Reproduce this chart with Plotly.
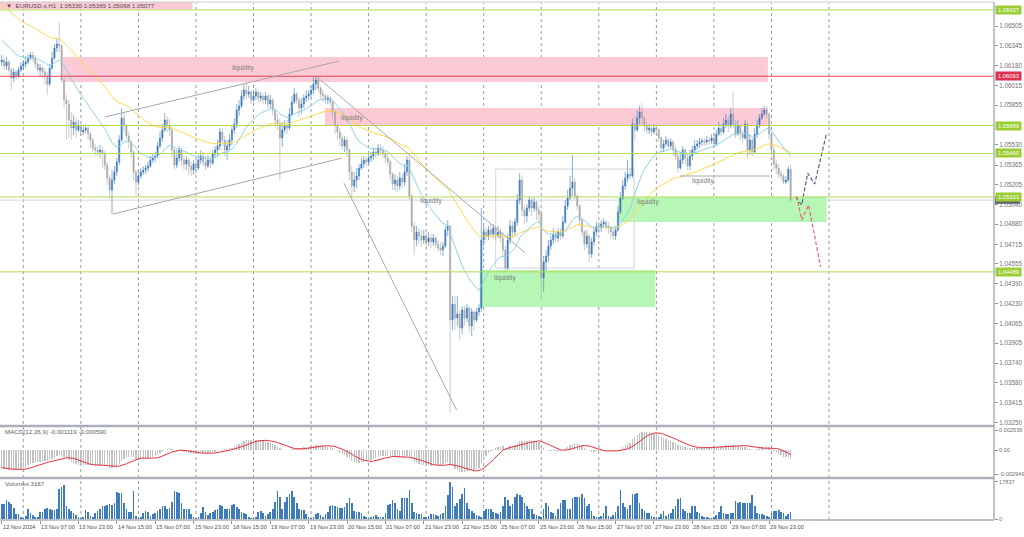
import plotly.graph_objects as go
from plotly.subplots import make_subplots

# ---------------- data (EURUSD.s H1) ----------------
first_open = 1.06210
close = [
    1.06226, 1.06177, 1.06210, 1.06144, 1.06078, 1.06128, 1.06095, 1.06144, 1.06177, 1.06193,
    1.06210, 1.06242, 1.06267, 1.06242, 1.06193, 1.06144, 1.06160, 1.06128, 1.06095, 1.06029,
    1.06160, 1.06242, 1.06324, 1.06357, 1.06341, 1.06062, 1.05898, 1.05865, 1.05734, 1.05668,
    1.05718, 1.05652, 1.05685, 1.05636, 1.05652, 1.05668, 1.05619, 1.05570, 1.05504, 1.05488,
    1.05472, 1.05488, 1.05463, 1.05365, 1.05258, 1.05160, 1.05242, 1.05308, 1.05390, 1.05570,
    1.05750, 1.05685, 1.05603, 1.05554, 1.05472, 1.05308, 1.05226, 1.05275, 1.05308, 1.05324,
    1.05340, 1.05357, 1.05406, 1.05422, 1.05439, 1.05521, 1.05586, 1.05652, 1.05734, 1.05685,
    1.05652, 1.05488, 1.05365, 1.05422, 1.05488, 1.05406, 1.05373, 1.05406, 1.05357, 1.05324,
    1.05373, 1.05340, 1.05406, 1.05439, 1.05390, 1.05357, 1.05406, 1.05381, 1.05455, 1.05488,
    1.05521, 1.05636, 1.05570, 1.05488, 1.05521, 1.05570, 1.05652, 1.05701, 1.05816, 1.05849,
    1.05931, 1.05980, 1.05947, 1.05964, 1.05898, 1.05931, 1.05964, 1.05914, 1.05931, 1.05898,
    1.05931, 1.05865, 1.05898, 1.05816, 1.05734, 1.05701, 1.05586, 1.05652, 1.05685, 1.05668,
    1.05783, 1.05882, 1.05947, 1.05898, 1.05832, 1.05865, 1.05914, 1.05931, 1.05947, 1.05980,
    1.06029, 1.06062, 1.05996, 1.05947, 1.05931, 1.05898, 1.05914, 1.05882, 1.05800, 1.05685,
    1.05636, 1.05586, 1.05521, 1.05570, 1.05488, 1.05308, 1.05193, 1.05242, 1.05275, 1.05340,
    1.05373, 1.05406, 1.05390, 1.05422, 1.05439, 1.05472, 1.05455, 1.05504, 1.05488, 1.05455,
    1.05422, 1.05390, 1.05291, 1.05209, 1.05242, 1.05193, 1.05258, 1.05226, 1.05308, 1.05406,
    1.05111, 1.04865, 1.04750, 1.04816, 1.04783, 1.04750, 1.04783, 1.04734, 1.04766, 1.04734,
    1.04766, 1.04717, 1.04684, 1.04668, 1.04701, 1.04832, 1.04865, 1.04094, 1.04225, 1.04110,
    1.04143, 1.04028, 1.04176, 1.04110, 1.04192, 1.04045, 1.04160, 1.04094, 1.04160, 1.04192,
    1.04750, 1.04816, 1.04783, 1.04832, 1.04799, 1.04848, 1.04783, 1.04816, 1.04766, 1.04668,
    1.04520, 1.04750, 1.04865, 1.04816, 1.04898, 1.05078, 1.05242, 1.04996, 1.04947, 1.05012,
    1.05078, 1.05012, 1.05062, 1.04996, 1.04963, 1.04438, 1.04570, 1.04619, 1.04701, 1.04750,
    1.04799, 1.04766, 1.04816, 1.04783, 1.04898, 1.05029, 1.05094, 1.05176, 1.05226, 1.05111,
    1.05029, 1.04914, 1.04816, 1.04717, 1.04783, 1.04635, 1.04734, 1.04816, 1.04865, 1.04848,
    1.04881, 1.04898, 1.04865, 1.04848, 1.04816, 1.04783, 1.04832, 1.04980, 1.05094, 1.05193,
    1.05258, 1.05291, 1.05275, 1.05701, 1.05652, 1.05750, 1.05800, 1.05750, 1.05685, 1.05652,
    1.05668, 1.05636, 1.05668, 1.05652, 1.05586, 1.05504, 1.05537, 1.05570, 1.05521, 1.05554,
    1.05488, 1.05439, 1.05340, 1.05406, 1.05488, 1.05422, 1.05357, 1.05439, 1.05488, 1.05521,
    1.05537, 1.05554, 1.05562, 1.05554, 1.05570, 1.05562, 1.05586, 1.05537, 1.05619, 1.05668,
    1.05636, 1.05701, 1.05734, 1.05685, 1.05783, 1.05701, 1.05619, 1.05685, 1.05619, 1.05586,
    1.05701, 1.05488, 1.05570, 1.05472, 1.05619, 1.05685, 1.05750, 1.05783, 1.05816, 1.05783,
    1.05619, 1.05488, 1.05373, 1.05340, 1.05291, 1.05275, 1.05226, 1.05242, 1.05330, 1.05077,
]
high = [
    1.06267, 1.06242, 1.06251, 1.06226, 1.06169, 1.06160, 1.06144, 1.06169, 1.06210, 1.06226,
    1.06259, 1.06275, 1.06292, 1.06292, 1.06267, 1.06210, 1.06193, 1.06177, 1.06160, 1.06128,
    1.06193, 1.06292, 1.06357, 1.06406, 1.06538, 1.06357, 1.06078, 1.05939, 1.05898, 1.05800,
    1.05775, 1.05750, 1.05734, 1.05701, 1.05685, 1.05701, 1.05685, 1.05636, 1.05586, 1.05537,
    1.05521, 1.05529, 1.05513, 1.05488, 1.05390, 1.05283, 1.05324, 1.05357, 1.05422, 1.05611,
    1.05832, 1.05800, 1.05701, 1.05636, 1.05570, 1.05488, 1.05324, 1.05308, 1.05340, 1.05357,
    1.05365, 1.05390, 1.05439, 1.05455, 1.05472, 1.05554, 1.05636, 1.05701, 1.05791, 1.05767,
    1.05750, 1.05668, 1.05504, 1.05488, 1.05521, 1.05504, 1.05439, 1.05439, 1.05422, 1.05390,
    1.05406, 1.05406, 1.05447, 1.05488, 1.05472, 1.05439, 1.05447, 1.05439, 1.05488, 1.05521,
    1.05570, 1.05668, 1.05668, 1.05603, 1.05570, 1.05619, 1.05693, 1.05750, 1.05865, 1.05898,
    1.05980, 1.06029, 1.06046, 1.06013, 1.05980, 1.05980, 1.05996, 1.05980, 1.05964, 1.05955,
    1.05964, 1.05947, 1.05939, 1.05914, 1.05832, 1.05783, 1.05750, 1.05718, 1.05734, 1.05734,
    1.05832, 1.05931, 1.05996, 1.05964, 1.05914, 1.05914, 1.05947, 1.05980, 1.05980, 1.06013,
    1.06087, 1.06095, 1.06078, 1.06013, 1.05980, 1.05947, 1.05939, 1.05931, 1.05898, 1.05816,
    1.05701, 1.05668, 1.05619, 1.05603, 1.05586, 1.05504, 1.05357, 1.05308, 1.05340, 1.05373,
    1.05422, 1.05439, 1.05439, 1.05455, 1.05472, 1.05504, 1.05504, 1.05537, 1.05537, 1.05521,
    1.05488, 1.05455, 1.05406, 1.05308, 1.05291, 1.05275, 1.05308, 1.05291, 1.05373, 1.05439,
    1.05431, 1.05127, 1.04898, 1.04865, 1.04848, 1.04832, 1.04832, 1.04816, 1.04816, 1.04799,
    1.04799, 1.04783, 1.04750, 1.04734, 1.04734, 1.04865, 1.04914, 1.04865, 1.04291, 1.04291,
    1.04291, 1.04176, 1.04209, 1.04209, 1.04225, 1.04209, 1.04192, 1.04176, 1.04192, 1.04225,
    1.05012, 1.04865, 1.04848, 1.04865, 1.04881, 1.04881, 1.04865, 1.04865, 1.04848, 1.04816,
    1.04701, 1.04799, 1.04914, 1.04898, 1.04930, 1.05127, 1.05299, 1.05275, 1.05029, 1.05045,
    1.05111, 1.05094, 1.05094, 1.05078, 1.05029, 1.04980, 1.04619, 1.04668, 1.04750, 1.04783,
    1.04848, 1.04832, 1.04848, 1.04848, 1.04947, 1.05078, 1.05160, 1.05275, 1.05447, 1.05258,
    1.05127, 1.05045, 1.04930, 1.04832, 1.04832, 1.04799, 1.04766, 1.04848, 1.04898, 1.04898,
    1.04914, 1.04930, 1.04914, 1.04898, 1.04865, 1.04848, 1.04865, 1.05029, 1.05144, 1.05242,
    1.05308, 1.05406, 1.05340, 1.05750, 1.05767, 1.05816, 1.05849, 1.05873, 1.05767, 1.05718,
    1.05701, 1.05685, 1.05701, 1.05685, 1.05668, 1.05603, 1.05570, 1.05603, 1.05586, 1.05586,
    1.05570, 1.05521, 1.05472, 1.05472, 1.05521, 1.05504, 1.05455, 1.05488, 1.05521, 1.05570,
    1.05570, 1.05586, 1.05586, 1.05586, 1.05603, 1.05595, 1.05619, 1.05619, 1.05652, 1.05718,
    1.05701, 1.05750, 1.05783, 1.05767, 1.05832, 1.05964, 1.05734, 1.05734, 1.05701, 1.05652,
    1.05734, 1.05718, 1.05619, 1.05586, 1.05668, 1.05734, 1.05783, 1.05832, 1.05849, 1.05849,
    1.05800, 1.05636, 1.05521, 1.05406, 1.05373, 1.05324, 1.05291, 1.05275, 1.05357, 1.05369,
]
low = [
    1.06177, 1.06144, 1.06144, 1.06128, 1.05980, 1.06046, 1.06062, 1.06078, 1.06128, 1.06144,
    1.06160, 1.06193, 1.06226, 1.06210, 1.06160, 1.06119, 1.06087, 1.06078, 1.06021, 1.05939,
    1.06013, 1.06144, 1.06226, 1.06292, 1.06292, 1.06046, 1.05832, 1.05570, 1.05586, 1.05570,
    1.05611, 1.05586, 1.05636, 1.05603, 1.05611, 1.05627, 1.05570, 1.05504, 1.05472, 1.05439,
    1.05439, 1.05422, 1.05340, 1.05324, 1.05201, 1.05094, 1.04963, 1.05209, 1.05275, 1.05365,
    1.05554, 1.05636, 1.05570, 1.05504, 1.05422, 1.05242, 1.05119, 1.05193, 1.05258, 1.05283,
    1.05291, 1.05308, 1.05340, 1.05381, 1.05390, 1.05422, 1.05504, 1.05554, 1.05636, 1.05636,
    1.05603, 1.05422, 1.05324, 1.05340, 1.05390, 1.05357, 1.05324, 1.05324, 1.05283, 1.05275,
    1.05283, 1.05291, 1.05324, 1.05373, 1.05357, 1.05324, 1.05340, 1.05340, 1.05365, 1.05422,
    1.05439, 1.05488, 1.05521, 1.05439, 1.05406, 1.05488, 1.05529, 1.05619, 1.05668, 1.05767,
    1.05832, 1.05898, 1.05898, 1.05914, 1.05865, 1.05882, 1.05898, 1.05873, 1.05882, 1.05865,
    1.05865, 1.05832, 1.05832, 1.05775, 1.05677, 1.05652, 1.05242, 1.05513, 1.05627, 1.05619,
    1.05652, 1.05767, 1.05865, 1.05865, 1.05759, 1.05783, 1.05832, 1.05882, 1.05898, 1.05914,
    1.05947, 1.05980, 1.05964, 1.05898, 1.05882, 1.05865, 1.05865, 1.05849, 1.05750, 1.05619,
    1.05570, 1.05521, 1.05488, 1.05472, 1.05431, 1.05242, 1.05103, 1.05144, 1.05176, 1.05242,
    1.05324, 1.05340, 1.05357, 1.05373, 1.05390, 1.05406, 1.05422, 1.05439, 1.05447, 1.05422,
    1.05381, 1.05357, 1.05242, 1.05160, 1.05160, 1.05144, 1.05160, 1.05176, 1.05193, 1.05275,
    1.05078, 1.04816, 1.04627, 1.04701, 1.04717, 1.04693, 1.04717, 1.04684, 1.04701, 1.04684,
    1.04701, 1.04684, 1.04652, 1.04627, 1.04619, 1.04684, 1.04783, 1.03331, 1.04012, 1.04012,
    1.04045, 1.03930, 1.03979, 1.04045, 1.04078, 1.03996, 1.03963, 1.04012, 1.04078, 1.04127,
    1.04160, 1.04701, 1.04734, 1.04750, 1.04766, 1.04766, 1.04750, 1.04766, 1.04734, 1.04619,
    1.04488, 1.04504, 1.04717, 1.04766, 1.04783, 1.04865, 1.05045, 1.04947, 1.04881, 1.04898,
    1.04980, 1.04947, 1.04980, 1.04914, 1.04898, 1.04258, 1.04324, 1.04504, 1.04570, 1.04668,
    1.04717, 1.04734, 1.04734, 1.04750, 1.04766, 1.04881, 1.04996, 1.05078, 1.05111, 1.05078,
    1.04996, 1.04865, 1.04783, 1.04668, 1.04684, 1.04570, 1.04602, 1.04701, 1.04783, 1.04799,
    1.04816, 1.04848, 1.04832, 1.04799, 1.04766, 1.04750, 1.04750, 1.04816, 1.04963, 1.05078,
    1.05160, 1.05226, 1.05242, 1.05258, 1.05570, 1.05636, 1.05701, 1.05701, 1.05636, 1.05619,
    1.05619, 1.05603, 1.05619, 1.05603, 1.05554, 1.05472, 1.05472, 1.05521, 1.05504, 1.05504,
    1.05439, 1.05406, 1.05299, 1.05324, 1.05373, 1.05373, 1.05324, 1.05324, 1.05406, 1.05455,
    1.05488, 1.05504, 1.05521, 1.05521, 1.05529, 1.05529, 1.05537, 1.05504, 1.05521, 1.05603,
    1.05603, 1.05619, 1.05668, 1.05636, 1.05668, 1.05668, 1.05586, 1.05603, 1.05570, 1.05554,
    1.05570, 1.05422, 1.05447, 1.05439, 1.05455, 1.05586, 1.05668, 1.05734, 1.05767, 1.05750,
    1.05570, 1.05439, 1.05324, 1.05291, 1.05258, 1.05242, 1.05209, 1.05209, 1.05226, 1.05068,
]
volume = [
    7200, 7200, 9100, 8100, 7200, 5300, 2600, 2600, 1000,
    500, 1500, 4900, 3000, 1800, 1000, 800, 3400, 3400, 4600, 5300, 4900, 4300, 4300, 4900, 14500, 15500, 16300, 6400, 4900, 3800, 3000, 2000, 1200,
    600, 1000, 4300, 3400, 1500, 1200, 2700, 3800, 4900, 6400, 6400, 6700, 7000, 6900, 7900, 13000, 12500, 12500, 7600, 4900, 3400, 3400, 13400, 1500,
    500, 1000, 3000, 3800, 3400, 1500, 2300, 3000, 3800, 4900, 6400, 6100, 4900, 5500, 8000, 13400, 13000, 12500, 7600, 4900, 4600, 4600, 2500, 800,
    600, 1200, 3000, 5800, 3400, 1800, 3000, 3400, 4300, 4600, 6900, 6400, 4600, 4900, 4900, 6900, 7200, 5800, 4600, 3400, 2700, 2300, 1200, 600,
    600, 1200, 3400, 3800, 3000, 1500, 2300, 3400, 4900, 8400, 13400, 10700, 4900, 8400, 10700, 12000, 13400, 10700, 7600, 4900, 4300, 4300, 2300, 1000,
    600, 1200, 2300, 3000, 1800, 1200, 2300, 3400, 6400, 6900, 6100, 5800, 5300, 5300, 5800, 7900, 10200, 7600, 3800, 3400, 3200, 3000, 1500, 800,
    600, 1000, 1500, 1800, 800, 1000, 1200, 3000, 6900, 7300, 9100, 7600, 4600, 3800, 10200, 9900, 10200, 14000, 7600, 3400, 3000, 2500, 2300, 1000,
    800, 1500, 2300, 2300, 1800, 1500, 2300, 2700, 6100, 11400, 17837, 15500, 6100, 7600, 9500, 12200, 14900, 7600, 4600, 3800, 3000, 2000, 1500, 800,
    4000, 4900, 4600, 4900, 3400, 3000, 2300, 3400, 6400, 10400, 9100, 6400, 7200, 10700, 11900, 11500, 10700, 7600, 6400, 4600, 4900, 2300, 2000, 1500,
    1000, 4900, 7600, 6100, 3400, 2700, 1500, 4600, 7900, 9100, 9100, 4600, 4900, 9900, 10700, 10700, 10700, 11900, 9900, 6400, 7300, 3800, 1500, 800,
    800, 1500, 3000, 6100, 1500, 800, 1800, 3400, 6400, 14000, 7600, 5800, 4900, 6900, 11900, 12200, 12500, 7600, 4600, 3800, 3000, 3000, 1500, 800,
    800, 1200, 2300, 3800, 1500, 2300, 2700, 4600, 6100, 9500, 9900, 4900, 3800, 3000, 3000, 6400, 6100, 3400, 2700, 1500, 800, 800, 600, 500,
    1000, 2000, 3400, 6400, 3000, 2300, 2300, 2700, 2700, 8800, 7900, 8400, 7600, 7900, 7600, 7600, 11400, 6400, 3000, 2600, 2300, 1800, 1500, 800,
    3000, 3800, 3800, 4300, 3400, 3000, 1500, 2300, 3167,
]

# indicator start states (values of the averages at the left edge)
ma_fast_seed = 1.06406
ma_slow_seed = 1.06700
ema12_seed = 1.06600
ema26_seed = 1.06800

tick_bars = list(range(0, 321, 16))
tick_text = ["12 Nov 2024", "13 Nov 07:00", "13 Nov 23:00", "14 Nov 15:00", "15 Nov 07:00",
             "15 Nov 23:00", "18 Nov 15:00", "19 Nov 07:00", "19 Nov 23:00", "20 Nov 15:00",
             "21 Nov 07:00", "21 Nov 23:00", "22 Nov 15:00", "25 Nov 07:00", "25 Nov 23:00",
             "26 Nov 15:00", "27 Nov 07:00", "27 Nov 23:00", "28 Nov 15:00", "29 Nov 07:00",
             "29 Nov 23:00"]
price_ticks = [1.06505, 1.06345, 1.06180, 1.06015, 1.05855, 1.05530, 1.05365,
               1.05205, 1.05040, 1.04880, 1.04715, 1.04555, 1.04390, 1.04230, 1.04065, 1.03905,
               1.03740, 1.03580, 1.03415, 1.03250]
green_levels = [1.06637, 1.05689, 1.05460, 1.05103, 1.04489]
red_level = 1.06093
bid_price = 1.05077
day_grid_bars = list(range(9, 346, 24))

# ---------------- derived ----------------
n = min(len(close), len(high), len(low), len(volume))
close, high, low, volume = close[:n], high[:n], low[:n], volume[:n]
xs = list(range(n))
opens = [first_open] + close[:-1]
hi = [max(h, o, c) for h, o, c in zip(high, opens, close)]
lo = [min(l, o, c) for l, o, c in zip(low, opens, close)]


def ema(vals, period, seed):
    a = 2.0 / (period + 1)
    e, out = seed, []
    for v in vals:
        e = e + a * (v - e)
        out.append(e)
    return out


ma_fast = ema(close, 20, ma_fast_seed)
ma_slow = ema(close, 55, ma_slow_seed)
macd = [a - b for a, b in zip(ema(close, 12, ema12_seed), ema(close, 26, ema26_seed))]
signal = []
for i in range(n):
    w = macd[max(0, i - 8):i + 1]
    signal.append(sum(w) / len(w))

# ---------------- figure ----------------
BULL = "#3c7bbd"
BEAR = "#a8a8a8"
FONT = "Liberation Sans"
W, H = 1024, 537
TOP, BOT = 2, 520          # pixel rows of plot area
PH = BOT - TOP
RIGHT_PX = 997
LEVEL_GREEN = "#b2da52"


def py(pix):               # pixel row -> paper y
    return (BOT - pix) / PH


def px(pix):               # pixel column -> paper x
    return pix / RIGHT_PX


fig = make_subplots(rows=3, cols=1, shared_xaxes=True, vertical_spacing=0)

fig.add_trace(go.Candlestick(
    x=xs, open=opens, high=hi, low=lo, close=close,
    increasing=dict(line=dict(color=BULL, width=0.6), fillcolor=BULL),
    decreasing=dict(line=dict(color=BEAR, width=0.6), fillcolor=BEAR),
    whiskerwidth=0, hoverinfo="skip", showlegend=False), row=1, col=1)
fig.add_trace(go.Scatter(x=xs, y=ma_slow, mode="lines", line=dict(color="#ffd94a", width=1),
                         hoverinfo="skip", showlegend=False), row=1, col=1)
fig.add_trace(go.Scatter(x=xs, y=ma_fast, mode="lines", line=dict(color="#8fd0ef", width=1),
                         hoverinfo="skip", showlegend=False), row=1, col=1)

fig.add_trace(go.Bar(x=xs, y=macd, marker=dict(color="#c2c2c2", line=dict(width=0)), width=0.55,
                     hoverinfo="skip", showlegend=False), row=2, col=1)
fig.add_trace(go.Scatter(x=xs, y=signal, mode="lines", line=dict(color="#e8323c", width=1),
                         hoverinfo="skip", showlegend=False), row=2, col=1)

fig.add_trace(go.Bar(x=xs, y=volume, marker=dict(color="#3e7cbc", line=dict(width=0)), width=0.7,
                     hoverinfo="skip", showlegend=False), row=3, col=1)

XR = [-0.71, 413.8]
for r in (1, 2, 3):
    fig.update_xaxes(range=XR, showgrid=False, zeroline=False, showline=False,
                     rangeslider_visible=False, row=r, col=1)
fig.update_xaxes(showticklabels=False, ticks="", row=1, col=1)
fig.update_xaxes(showticklabels=False, ticks="", row=2, col=1)
fig.update_xaxes(tickvals=tick_bars, ticks="outside", ticklen=3, tickcolor="#909090",
                 showticklabels=False, row=3, col=1)

axis_font = dict(family=FONT, size=6.3, color="#727272")
small_font = dict(family=FONT, size=5.6, color="#727272")
common_y = dict(side="right", showgrid=False, zeroline=False, showline=False, ticks="outside",
                ticklen=3, tickcolor="#909090", fixedrange=True)
fig.update_layout(
    yaxis=dict(domain=[py(425), 1], range=[1.03233, 1.06702], tickvals=price_ticks,
               ticktext=["%.5f" % v for v in price_ticks], tickfont=axis_font, **common_y),
    yaxis2=dict(domain=[py(477), py(427)], range=[-0.00332, 0.00291],
                tickvals=[0.002536, 0.0, -0.002946], ticktext=["0.002536", "0.00", "-0.002946"],
                tickfont=small_font, **common_y),
    yaxis3=dict(domain=[0, py(479)], range=[-480, 19280], tickvals=[17837, 0],
                ticktext=["17837", "0"], tickfont=small_font, **common_y),
)

shapes = []
# zones
pink = "#fbcad5"
green = "#b6f7b6"
zones = [
    (-1, 79.6, 1.06644, 1.06702, pink),
    (25.5, 319.5, 1.06046, 1.06251, pink),
    (134.8, 319.5, 1.05685, 1.05832, pink),
    (199.3, 272.5, 1.04201, 1.04504, green),
    (257.1, 344.0, 1.04898, 1.05103, green),
]
for x0, x1, y0, y1, col in zones:
    shapes.append(dict(type="rect", xref="x", yref="y", x0=x0, x1=x1, y0=y0, y1=y1,
                       fillcolor=col, line=dict(width=0), layer="below"))
shapes.append(dict(type="rect", xref="x", yref="y", x0=206.0, x1=263.7, y0=1.04520, y1=1.05332,
                   fillcolor="rgba(0,0,0,0)", line=dict(color="#d4d4d4", width=1), layer="below"))
# vertical day grid
for b in day_grid_bars:
    shapes.append(dict(type="line", xref="x", yref="paper", x0=b, x1=b, y0=0, y1=py(TOP + 1),
                       line=dict(color="#9a9a9a", width=1, dash="dot"), layer="below"))
# levels
for lv in green_levels:
    shapes.append(dict(type="line", xref="paper", yref="y", x0=0, x1=1, y0=lv, y1=lv,
                       line=dict(color=LEVEL_GREEN, width=1), layer="above"))
shapes.append(dict(type="line", xref="paper", yref="y", x0=0, x1=1, y0=red_level, y1=red_level,
                   line=dict(color="#e8405e", width=1), layer="above"))
shapes.append(dict(type="line", xref="paper", yref="y", x0=0, x1=1, y0=bid_price, y1=bid_price,
                   line=dict(color="#d2d8e6", width=1), layer="below"))
# trend lines
trend = [
    (43.0, 1.05759, 140.7, 1.06218),
    (46.3, 1.04963, 141.9, 1.05422),
    (131.1, 1.06095, 218.4, 1.04643),
    (142.7, 1.05217, 189.7, 1.03356),
    (282.9, 1.05275, 320.3, 1.05275),
]
for x0, y0, x1, y1 in trend:
    shapes.append(dict(type="line", xref="x", yref="y", x0=x0, y0=y0, x1=x1, y1=y1,
                       line=dict(color="#a8a8a8", width=1)))
# bid price marker on the price scale (mostly hidden by the level label above it)
shapes.append(dict(type="rect", xref="paper", yref="y", x0=px(998), x1=px(1023),
                   y0=bid_price - 0.00030, y1=bid_price + 0.00030,
                   fillcolor="#5e6670", line=dict(width=0), layer="above"))

# projected paths
proj_blue_x = [331.1, 333.6, 336.1, 339.0, 344.0]
proj_blue_y = [1.05103, 1.05037, 1.05299, 1.05209, 1.05627]
proj_red_x = [331.5, 333.6, 336.5, 341.5]
proj_red_y = [1.05111, 1.04914, 1.05037, 1.04529]
fig.add_trace(go.Scatter(x=proj_blue_x, y=proj_blue_y, mode="lines",
                         line=dict(color="#56648f", width=1.2, dash="4px,2px"),
                         hoverinfo="skip", showlegend=False), row=1, col=1)
fig.add_trace(go.Scatter(x=proj_red_x, y=proj_red_y, mode="lines",
                         line=dict(color="#ea6478", width=1.2, dash="4px,2px"),
                         hoverinfo="skip", showlegend=False), row=1, col=1)

ann = []
lab_font = dict(family=FONT, size=6.5, color="#7a7a7a")
for bx, pr in [(100.8, 1.06160), (146.0, 1.05750), (178.9, 1.05070),
               (209.7, 1.04438), (269.6, 1.05062), (292.4, 1.05234)]:
    ann.append(dict(x=bx, y=pr, xref="x", yref="y", text="liquidity", showarrow=False,
                    font=lab_font, xanchor="center", yanchor="middle"))

ann.append(dict(x=0.004, y=py(5.5), xref="paper", yref="paper", showarrow=False,
                text="\u25bc  EURUSD.s,H1  1.05330 1.05369 1.05068 1.05077",
                font=dict(family=FONT, size=6.2, color="#505050"), xanchor="left", yanchor="middle"))
ann.append(dict(x=0.003, y=py(431), xref="paper", yref="paper", showarrow=False,
                text="MACD(12,26,9) -0.001119 -0.000590",
                font=dict(family=FONT, size=6.2, color="#606060"), xanchor="left", yanchor="middle"))
ann.append(dict(x=0.003, y=py(483.5), xref="paper", yref="paper", showarrow=False,
                text="Volumes 3167",
                font=dict(family=FONT, size=6.2, color="#606060"), xanchor="left", yanchor="middle"))

for b, t in zip(tick_bars, tick_text):
    ann.append(dict(x=b, y=py(521.5), xref="x", yref="paper", text=t, showarrow=False,
                    font=dict(family=FONT, size=5.7, color="#505050"),
                    xanchor="left", yanchor="top", xshift=-1))

# right-edge price labels of the horizontal levels
label_specs = [(lv, "#9acd32") for lv in green_levels] + [(red_level, "#e0304f")]
for pr, bg in label_specs:
    ann.append(dict(x=px(998), y=pr, xref="paper", yref="y", text="%.5f" % pr, showarrow=False,
                    font=dict(family=FONT, size=5.8, color="white"), bgcolor=bg,
                    xanchor="left", yanchor="middle", width=25, height=8, borderpad=0))
fig.update_layout(annotations=ann)

# frame / panel separators
frame = "#a9b0b8"
extra = [
    dict(type="line", xref="paper", yref="paper", x0=0, x1=1, y0=py(426), y1=py(426),
         line=dict(color=frame, width=2.5)),
    dict(type="line", xref="paper", yref="paper", x0=0, x1=1, y0=py(478), y1=py(478),
         line=dict(color=frame, width=2.5)),
    dict(type="line", xref="paper", yref="paper", x0=1, x1=1, y0=0, y1=1,
         line=dict(color=frame, width=1.5)),
    dict(type="line", xref="paper", yref="paper", x0=0, x1=1, y0=0, y1=0,
         line=dict(color=frame, width=1.5)),
    dict(type="line", xref="paper", yref="paper", x0=0, x1=1, y0=1, y1=1,
         line=dict(color="#c8ccd0", width=1)),
]
fig.update_layout(shapes=shapes + extra)

fig.update_layout(
    width=W, height=H, margin=dict(l=0, r=27, t=TOP, b=H - BOT),
    paper_bgcolor="white", plot_bgcolor="white", showlegend=False,
    hovermode=False, bargap=0, font=dict(family=FONT),
)

fig.write_html("out.html", config={"displayModeBar": False, "staticPlot": True},
               post_script="document.body.style.margin='0px';document.body.style.padding='0px';")
